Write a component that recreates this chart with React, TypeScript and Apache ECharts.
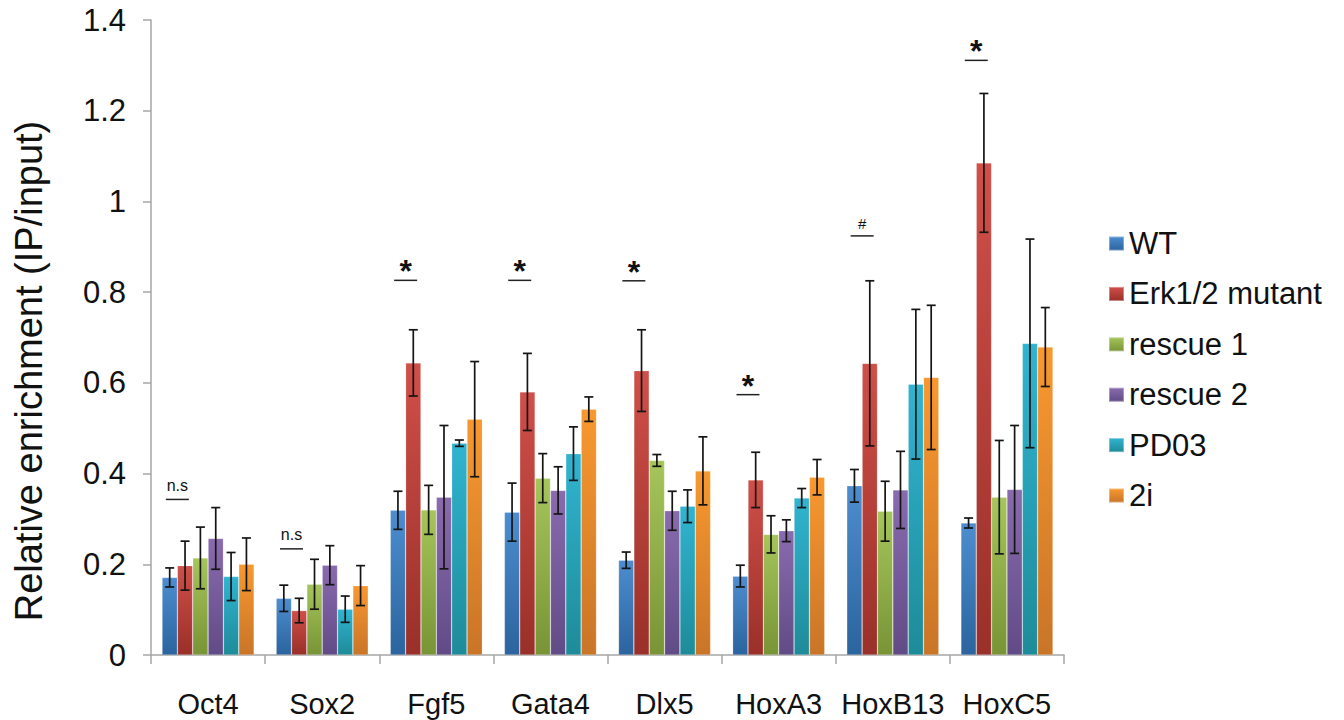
import React, { useEffect, useRef } from "react";
import * as echarts from "echarts";

const categories = ["Oct4", "Sox2", "Fgf5", "Gata4", "Dlx5", "HoxA3", "HoxB13", "HoxC5"];
const seriesNames = ["WT", "Erk1/2 mutant", "rescue 1", "rescue 2", "PD03", "2i"];

const wtValues = [0.171, 0.125, 0.319, 0.315, 0.209, 0.174, 0.373, 0.291];
const erkValues = [0.197, 0.098, 0.644, 0.580, 0.627, 0.386, 0.643, 1.085];
const rescue1Values = [0.214, 0.156, 0.320, 0.390, 0.429, 0.266, 0.317, 0.348];
const rescue2Values = [0.257, 0.198, 0.348, 0.363, 0.318, 0.274, 0.364, 0.365];
const pd03Values = [0.173, 0.101, 0.467, 0.444, 0.328, 0.346, 0.597, 0.687];
const twoIValues = [0.200, 0.153, 0.520, 0.542, 0.406, 0.392, 0.612, 0.679];

const wtErr = [0.021, 0.029, 0.042, 0.064, 0.018, 0.024, 0.036, 0.011];
const erkErr = [0.054, 0.027, 0.073, 0.085, 0.090, 0.061, 0.182, 0.153];
const rescue1Err = [0.068, 0.055, 0.054, 0.054, 0.013, 0.041, 0.066, 0.125];
const rescue2Err = [0.068, 0.043, 0.158, 0.052, 0.043, 0.024, 0.085, 0.141];
const pd03Err = [0.053, 0.029, 0.007, 0.059, 0.036, 0.021, 0.165, 0.230];
const twoIErr = [0.058, 0.044, 0.127, 0.027, 0.075, 0.039, 0.159, 0.087];

const yTicks = ["0", "0.2", "0.4", "0.6", "0.8", "1", "1.2", "1.4"];

const annotationCats = [0, 1, 2, 3, 4, 5, 6, 7];
const annotationLevels = [0.343, 0.234, 0.826, 0.826, 0.825, 0.574, 0.924, 1.311];
const annotationLabels = ["n.s", "n.s", "*", "*", "*", "*", "#", "*"];

const FONT = "'Liberation Sans', Arial, sans-serif";
const GAP = 0.193;

const gradients = [
  ["#4d8dcf", "#2b649e"],
  ["#d04f49", "#993029"],
  ["#a6c55b", "#789436"],
  ["#8a6bae", "#614b86"],
  ["#31b4d0", "#1e8b99"],
  ["#f8982f", "#c97528"],
];

export default function App() {
  const ref = useRef<HTMLDivElement>(null);
  useEffect(() => {
    if (!ref.current) return;
    const chart = echarts.init(ref.current, null, { renderer: "svg" });
    const values = [wtValues, erkValues, rescue1Values, rescue2Values, pd03Values, twoIValues];
    const errs = [wtErr, erkErr, rescue1Err, rescue2Err, pd03Err, twoIErr];

    const barSeries = seriesNames.map((name, i) => ({
      name,
      type: "bar",
      data: values[i],
      barGap: "0%",
      barCategoryGap: GAP * 100 + "%",
      itemStyle: {
        color: new echarts.graphic.LinearGradient(0, 0, 0, 1, [
          { offset: 0, color: gradients[i][0] },
          { offset: 1, color: gradients[i][1] },
        ]),
        borderColor: "rgba(255,255,255,0.35)",
        borderWidth: 0.6,
      },
      z: 2,
    }));

    const errData: number[][] = [];
    values.forEach((arr, s) => {
      arr.forEach((v, c) => errData.push([c, s, v, errs[s][c]]));
    });

    const errSeries = {
      type: "custom",
      name: "err",
      z: 5,
      encode: { x: 0, y: 2 },
      data: errData,
      renderItem: (params: any, api: any) => {
        const cat = api.value(0);
        const s = api.value(1);
        const v = api.value(2);
        const e = api.value(3);
        const band = api.size([1, 0])[0];
        const groupW = band * (1 - GAP);
        const bw = groupW / 6;
        const cx = api.coord([cat, v])[0] - groupW / 2 + bw * (s + 0.5);
        const yT = api.coord([cat, v + e])[1];
        const yB = api.coord([cat, v - e])[1];
        const cap = 4.5;
        const st = { stroke: "#151515", lineWidth: 1.7 };
        return {
          type: "group",
          children: [
            { type: "line", shape: { x1: cx, y1: yT, x2: cx, y2: yB }, style: st },
            { type: "line", shape: { x1: cx - cap, y1: yT, x2: cx + cap, y2: yT }, style: st },
            { type: "line", shape: { x1: cx - cap, y1: yB, x2: cx + cap, y2: yB }, style: st },
          ],
        };
      },
    };

    const annSeries = {
      type: "custom",
      name: "ann",
      z: 5,
      encode: { x: 0, y: 1 },
      data: annotationCats.map((c, i) => [c, annotationLevels[i]]),
      renderItem: (params: any, api: any) => {
        const cat = api.value(0);
        const lv = api.value(1);
        const label = annotationLabels[params.dataIndex];
        const band = api.size([1, 0])[0];
        const groupW = band * (1 - GAP);
        const bw = groupW / 6;
        const pt = api.coord([cat, lv]);
        const cx = pt[0] - groupW / 2 + bw;
        const y = pt[1];
        let fs = 16;
        let dy = -14;
        let fw = "normal";
        if (label === "*") {
          fs = 32;
          dy = -9;
          fw = "bold";
        } else if (label === "#") {
          fs = 15;
          dy = -12.5;
        }
        return {
          type: "group",
          children: [
            {
              type: "line",
              shape: { x1: cx - 11.5, y1: y, x2: cx + 11.5, y2: y },
              style: { stroke: "#222", lineWidth: 1.5 },
            },
            {
              type: "text",
              x: cx,
              y: y + dy,
              style: {
                text: label,
                fontSize: fs,
                fontWeight: fw,
                fontFamily: FONT,
                fill: "#111",
                textAlign: "center",
                textVerticalAlign: "middle",
              },
            },
          ],
        };
      },
    };

    chart.setOption({
      animation: false,
      backgroundColor: "#ffffff",
      grid: { left: 151, right: 280, top: 20, bottom: 65, containLabel: false },
      legend: {
        data: seriesNames,
        orient: "vertical",
        left: 1108,
        top: 228,
        padding: 0,
        itemWidth: 15,
        itemHeight: 14,
        itemGap: 19.4,
        icon: "rect",
        textStyle: { fontSize: 31, fontFamily: FONT, color: "#111", lineHeight: 30 },
      },
      xAxis: {
        type: "category",
        data: categories,
        axisLine: { lineStyle: { color: "#a6a6a6", width: 1.5 } },
        axisTick: { show: true, length: 9, lineStyle: { color: "#a6a6a6", width: 1.5 } },
        axisLabel: { fontSize: 29, fontFamily: FONT, color: "#111", margin: 34, interval: 0 },
      },
      yAxis: {
        type: "value",
        min: 0,
        max: 1.4,
        interval: 0.2,
        splitLine: { show: false },
        axisLine: { show: true, lineStyle: { color: "#a6a6a6", width: 1.5 } },
        axisTick: { show: true, length: 8, lineStyle: { color: "#a6a6a6", width: 1.5 } },
        axisLabel: {
          fontSize: 31,
          fontFamily: FONT,
          color: "#111",
          margin: 25,
          formatter: (v: number) => yTicks[Math.round(v / 0.2)] ?? String(v),
        },
      },
      graphic: [
        {
          type: "text",
          x: 29,
          y: 371,
          rotation: Math.PI / 2,
          style: {
            text: "Relative enrichment (IP/input)",
            fontSize: 38,
            fontFamily: FONT,
            fill: "#111",
            textAlign: "center",
            textVerticalAlign: "middle",
          },
        },
      ],
      series: [...barSeries, errSeries, annSeries],
    });
    return () => chart.dispose();
  }, []);
  return (
    <div
      ref={ref}
      style={{ position: "fixed", left: 0, top: 0, width: 1344, height: 720, background: "#fff" }}
    />
  );
}
